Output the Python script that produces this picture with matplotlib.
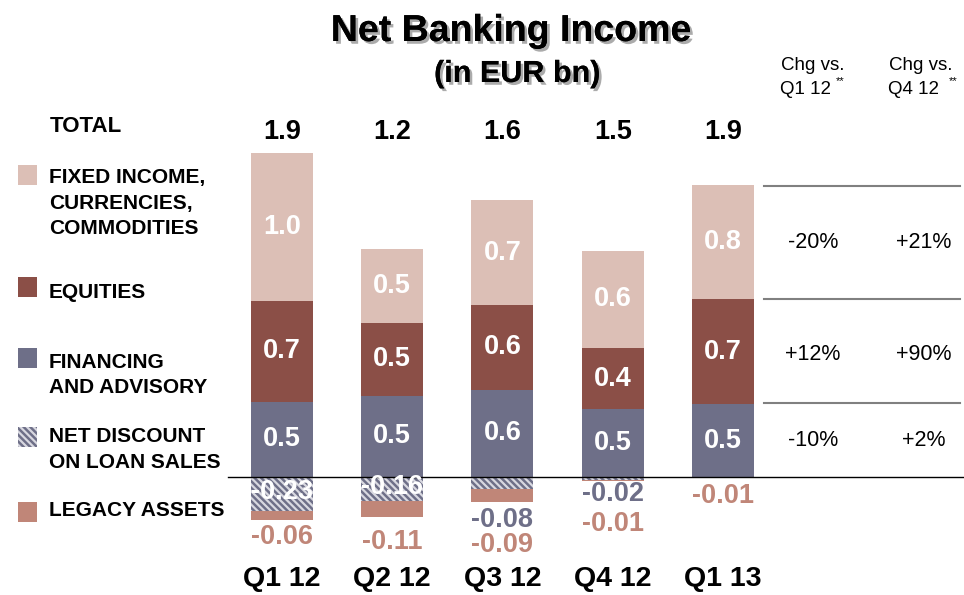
import matplotlib
matplotlib.use("Agg")
import matplotlib.pyplot as plt
import matplotlib.patheffects as pe
from matplotlib.patches import Rectangle

# data (EUR bn)
quarters = ["Q1 12", "Q2 12", "Q3 12", "Q4 12", "Q1 13"]
totals = ["1.9", "1.2", "1.6", "1.5", "1.9"]
ficc = [1.00, 0.50, 0.71, 0.66, 0.77]
equities = [0.68, 0.49, 0.57, 0.41, 0.71]
financing = [0.51, 0.55, 0.59, 0.46, 0.49]
discount = [-0.23, -0.16, -0.08, -0.02, 0.0]
legacy = [-0.06, -0.11, -0.09, -0.01, -0.01]
ficc_lbl = ["1.0", "0.5", "0.7", "0.6", "0.8"]
eq_lbl = ["0.7", "0.5", "0.6", "0.4", "0.7"]
fin_lbl = ["0.5", "0.5", "0.6", "0.5", "0.5"]
disc_lbl = ["-0.23", "-0.16", "-0.08", "-0.02", ""]
leg_lbl = ["-0.06", "-0.11", "-0.09", "-0.01", "-0.01"]
chg_q1 = ["-20%", "+12%", "-10%"]
chg_q4 = ["+21%", "+90%", "+2%"]
legend_names = ["FIXED INCOME,\nCURRENCIES,\nCOMMODITIES", "EQUITIES",
                "FINANCING\nAND ADVISORY", "NET DISCOUNT\nON LOAN SALES", "LEGACY ASSETS"]

# colours
c_ficc = "#dcbfb6"
c_eq = "#8b4f47"
c_fin = "#6e6f88"
c_leg = "#c08678"

W, H = 964, 595
FONT = "Liberation Sans"
plt.rcParams["font.family"] = [FONT, "DejaVu Sans"]
plt.rcParams["hatch.linewidth"] = 1.6
HATCH = "\\\\\\\\\\"

# pixel layout helpers
px_per_bn = 148.0
y0_px = 477.0
x0_px = 282.0
step_px = 110.25


def fx(x):
    return x / W


def fy(y):
    return 1 - y / H


def dy(py):
    # pixel row -> data value
    return (y0_px - py) / px_per_bn


fig = plt.figure(figsize=(W / 100, H / 100), dpi=100)
ax = fig.add_axes([0, 0, 1, 1])
ax.set_xlim(-x0_px / step_px, (W - x0_px) / step_px)
ax.set_ylim(-(H - y0_px) / px_per_bn, y0_px / px_per_bn)
ax.axis("off")

x = list(range(len(quarters)))
bw = 62 / step_px

b_fin = financing
b_eq = [f + e for f, e in zip(financing, equities)]
ax.bar(x, financing, bw, color=c_fin, linewidth=0)
ax.bar(x, equities, bw, bottom=b_fin, color=c_eq, linewidth=0)
ax.bar(x, ficc, bw, bottom=b_eq, color=c_ficc, linewidth=0)
ax.bar(x, discount, bw, color=c_fin, edgecolor="#d8d8e0", hatch=HATCH, linewidth=0)
ax.bar(x, legacy, bw, bottom=discount, color=c_leg, linewidth=0)

lbl_kw = dict(ha="center", va="center", fontsize=19.5, fontweight="bold")
for i in x:
    ax.text(i, financing[i] / 2, fin_lbl[i], color="white", **lbl_kw)
    ax.text(i, b_fin[i] + equities[i] / 2, eq_lbl[i], color="white", **lbl_kw)
    ax.text(i, b_eq[i] + ficc[i] / 2, ficc_lbl[i], color="white", **lbl_kw)
    ax.text(i, dy(132), totals[i], color="black", **lbl_kw)
    ax.text(i, dy(579), quarters[i], ha="center", va="center", fontsize=20.5,
            fontweight="bold", color="black")

# negative labels
disc_pos = [492, 487, 520, 494, None]
disc_col = ["white", "white", c_fin, c_fin, None]
leg_pos = [537, 542, 545, 524, 496]
for i in x:
    if disc_lbl[i]:
        ax.text(i, dy(disc_pos[i]), disc_lbl[i], color=disc_col[i], **lbl_kw)
    ax.text(i, dy(leg_pos[i]), leg_lbl[i], color=c_leg, **lbl_kw)

# zero line
ax.plot([-(x0_px - 228) / step_px, (W - x0_px) / step_px], [0, 0], color="black", lw=1)

# title
shadow = [pe.withSimplePatchShadow(offset=(2, -2), shadow_rgbFace="#888888", alpha=0.7), pe.Normal()]
fig.text(fx(511), fy(31), "Net Banking Income", ha="center", va="center", fontsize=27,
         fontweight="bold", path_effects=shadow)
fig.text(fx(517), fy(74), "(in EUR bn)", ha="center", va="center", fontsize=22,
         fontweight="bold", path_effects=shadow)

fig.text(fx(50), fy(127), "TOTAL", ha="left", va="center", fontsize=16, fontweight="bold")

# legend
sq_top = [165, 277, 348, 427, 502]
txt_top = [178, 292, 362, 437, 511]
sq_col = [c_ficc, c_eq, c_fin, c_fin, c_leg]
for k, name in enumerate(legend_names):
    hatch = HATCH if k == 3 else None
    fig.patches.append(Rectangle((fx(18), fy(sq_top[k] + 20)), 19 / W, 20 / H,
                                 transform=fig.transFigure, facecolor=sq_col[k],
                                 edgecolor="#d8d8e0" if hatch else sq_col[k],
                                 hatch=hatch, linewidth=0))
    for j, line in enumerate(name.split("\n")):
        fig.text(fx(49), fy(txt_top[k] + 25.5 * j), line, ha="left", va="center",
                 fontsize=15, fontweight="bold")

# change table
for yl in [186, 299, 403]:
    fig.add_artist(plt.Line2D([fx(764), fx(960)], [fy(yl), fy(yl)], color="#808080", lw=1.5))
rows_y = [243, 355, 440]
for r in range(3):
    fig.text(fx(813), fy(rows_y[r]), chg_q1[r], ha="center", va="center", fontsize=15.5)
    fig.text(fx(924), fy(rows_y[r]), chg_q4[r], ha="center", va="center", fontsize=15.5)
for cx, q, sx in [(813, "Q1 12", 840), (921, "Q4 12", 953)]:
    fig.text(fx(cx), fy(66), "Chg vs.", ha="center", va="center", fontsize=13.5)
    fig.text(fx(cx - 8), fy(90), q, ha="center", va="center", fontsize=13.5)
    fig.text(fx(sx), fy(81), "**", ha="center", va="center", fontsize=8)

fig.savefig("out.png", dpi=100)
